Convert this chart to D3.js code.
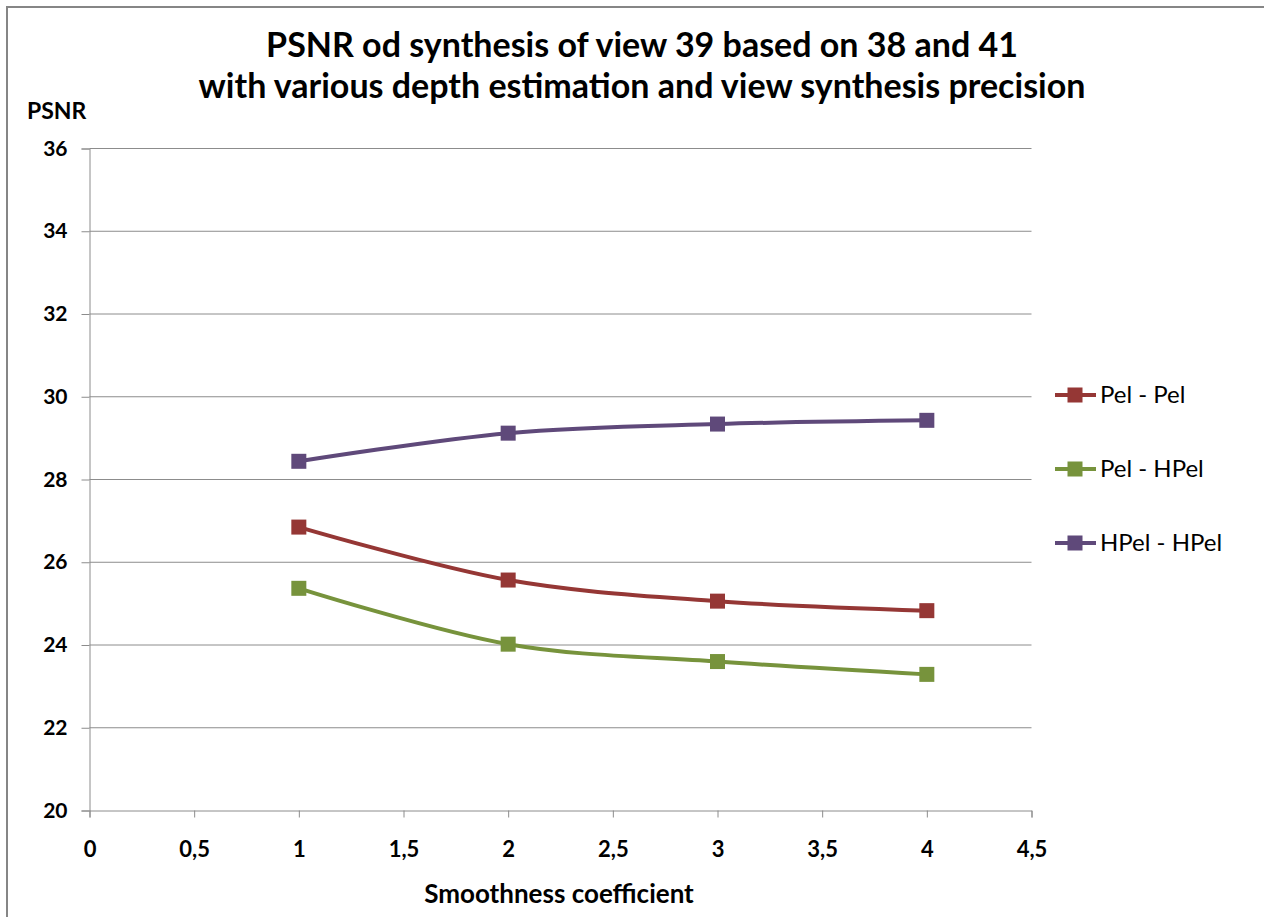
<!DOCTYPE html>
<html>
<head>
<meta charset="utf-8">
<script src="https://cdn.jsdelivr.net/npm/d3@7"></script>
<style>
  body { margin: 0; background: #fff; }
  svg { display: block; }
</style>
</head>
<body>
<div id="chart"></div>
<script>
// chart data
const xValues = [1, 2, 3, 4];
const pelPel = [26.85, 25.57, 25.06, 24.83];
const pelHpel = [25.37, 24.02, 23.60, 23.29];
const hpelHpel = [28.44, 29.12, 29.34, 29.43];
const seriesNames = ['Pel - Pel', 'Pel - HPel', 'HPel - HPel'];
const seriesColors = ['#953735', '#77933c', '#5f497a'];
const xTicks = [0, 0.5, 1, 1.5, 2, 2.5, 3, 3.5, 4, 4.5];
const yTicks = [20, 22, 24, 26, 28, 30, 32, 34, 36];
const titleLines = ['PSNR od synthesis of view 39 based on 38 and 41',
  'with various depth estimation and view synthesis precision'];

const width = 1264, height = 917;
const font = 'Lato, "Open Sans", sans-serif';

const svg = d3.select('#chart').append('svg')
  .attr('width', width).attr('height', height);

// frame (only left/top visible in the crop)
svg.append('rect')
  .attr('x', 7).attr('y', 7)
  .attr('width', width + 10).attr('height', height + 10)
  .attr('fill', '#fff').attr('stroke', '#868686').attr('stroke-width', 2);

const x = d3.scaleLinear().domain([0, 4.5]).range([89.5, 1031.5]);
const y = d3.scaleLinear().domain([20, 36]).range([810.5, 148.5]);

// gridlines
svg.append('g').selectAll('line')
  .data(yTicks.filter(d => d > 20))
  .enter().append('line')
  .attr('x1', x(0)).attr('x2', x(4.5))
  .attr('y1', d => y(d)).attr('y2', d => y(d))
  .attr('stroke', '#8c8c8c').attr('stroke-width', 1);

// y axis
const yAxis = svg.append('g')
  .attr('transform', `translate(${x(0)},0)`)
  .call(d3.axisLeft(y).tickValues(yTicks).tickSize(8).tickPadding(14));
yAxis.select('.domain').attr('stroke', '#8c8c8c');
yAxis.selectAll('.tick line').attr('stroke', '#8c8c8c');
yAxis.selectAll('.tick text')
  .attr('font-family', font).attr('font-size', 21).attr('font-weight', 'bold')
  .attr('fill', '#000');

// x axis
const fmt = d => String(d).replace('.', ',');
const xAxis = svg.append('g')
  .attr('transform', `translate(0,${y(20)})`)
  .call(d3.axisBottom(x).tickValues(xTicks).tickSize(7).tickSizeOuter(7).tickFormat(fmt));
xAxis.select('.domain').attr('stroke', '#8c8c8c');
xAxis.selectAll('.tick line').attr('stroke', '#8c8c8c');
xAxis.selectAll('.tick text')
  .attr('y', 46.5).attr('dy', null)
  .attr('font-family', font).attr('font-size', 22).attr('font-weight', 'bold')
  .attr('fill', '#000');

// titles
svg.append('g').selectAll('text')
  .data(titleLines)
  .enter().append('text')
  .attr('x', 642).attr('y', (d, i) => 57 + i * 41)
  .attr('text-anchor', 'middle')
  .attr('font-family', font).attr('font-size', 34).attr('font-weight', 'bold')
  .attr('fill', '#000')
  .text(d => d);

svg.append('text')
  .attr('x', 27).attr('y', 119)
  .attr('font-family', font).attr('font-size', 23).attr('font-weight', 'bold')
  .text('PSNR');

svg.append('text')
  .attr('x', 559).attr('y', 903)
  .attr('text-anchor', 'middle')
  .attr('font-family', font).attr('font-size', 26).attr('font-weight', 'bold')
  .text('Smoothness coefficient');

// series
const series = [pelPel, pelHpel, hpelHpel].map((vals, i) => ({
  name: seriesNames[i],
  color: seriesColors[i],
  points: vals.map((v, j) => ({ x: xValues[j], y: v }))
}));

const line = d3.line()
  .x(d => x(d.x)).y(d => y(d.y))
  .curve(d3.curveCatmullRom.alpha(0));

const mk = 15;
const sg = svg.append('g').selectAll('g').data(series).enter().append('g');
sg.append('path')
  .attr('d', d => line(d.points))
  .attr('fill', 'none')
  .attr('stroke', d => d.color)
  .attr('stroke-width', 4);
sg.selectAll('rect')
  .data(d => d.points.map(p => ({ ...p, color: d.color })))
  .enter().append('rect')
  .attr('x', d => x(d.x) - mk / 2).attr('y', d => y(d.y) - mk / 2)
  .attr('width', mk).attr('height', mk)
  .attr('fill', d => d.color);

// legend
const lg = svg.append('g').selectAll('g').data(series).enter().append('g')
  .attr('transform', (d, i) => `translate(1055,${395 + i * 74})`);
lg.append('line')
  .attr('x1', 0).attr('x2', 41)
  .attr('stroke', d => d.color).attr('stroke-width', 4);
lg.append('rect')
  .attr('x', 20 - mk / 2).attr('y', -mk / 2)
  .attr('width', mk).attr('height', mk)
  .attr('fill', d => d.color);
lg.append('text')
  .attr('x', 45).attr('y', 8)
  .attr('font-family', font).attr('font-size', 24)
  .text(d => d.name);
</script>
</body>
</html>
